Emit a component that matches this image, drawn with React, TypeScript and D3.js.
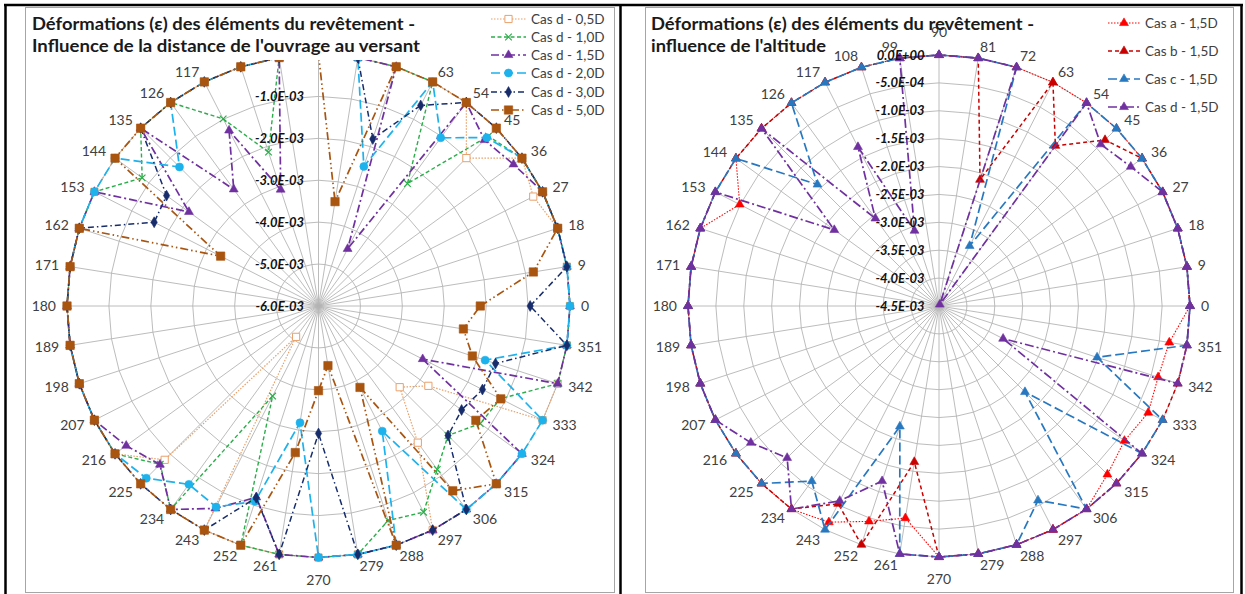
import React, { useEffect, useRef } from "react";
import * as d3 from "d3";

// categories (degrees around the lining)
const angles = [0, 9, 18, 27, 36, 45, 54, 63, 72, 81, 90, 99, 108, 117, 126, 135, 144, 153, 162, 171,
  180, 189, 198, 207, 216, 225, 234, 243, 252, 261, 270, 279, 288, 297, 306, 315, 324, 333, 342, 351];

// strains, in 1e-3 units (index = angle / 9)
const casD05 = [0, 0, 0, -0.25, 0, -1.01, 0, 0, 0, 0,
  0, 0, 0, 0, 0, 0, 0, 0, 0, 0,
  0, 0, 0, 0, 0, -0.81, -5.09, 0, 0, 0,
  0, 0, 0, 0, -1.97, -3.26, -2.76, 0, 0, 0];
const casD10 = [0, 0, 0, 0, 0, -0.27, -2.39, 0, 0, 0,
  0, 0, -2.14, -0.99, 0, 0, -0.8, 0, 0, 0,
  0, 0, 0, 0, 0, -0.66, 0, -3.59, 0, 0,
  0, 0, -0.62, -0.48, -1.18, -1.63, -1.23, -1.13, 0, 0];
const casD15 = [0, 0, 0, 0, -0.25, -0.4, 0, -4.47, 0, 0,
  0, 0, -3.08, -1.3, -2.56, 0, -2.18, 0, 0, 0,
  0, 0, 0, 0, -0.33, -0.65, 0, -0.58, -1.2, 0,
  0, 0, 0, 0, 0, 0, 0, -3.21, 0, 0];
const casD20 = [0, 0, 0, 0, 0, -0.32, -1.04, 0, -2.5, 0,
  0, 0, 0, 0, 0, -1.31, 0, 0, 0, 0,
  0, 0, 0, 0, 0, -0.19, -0.74, -0.62, -1.1, -3.18,
  0, 0, 0, -2.65, 0, 0, 0, 0, -1.82, 0];
const casD30 = [-0.95, 0, 0, 0, 0, 0, 0, -0.63, -1.81, 0,
  0, 0, 0, 0, 0, 0, -1.52, -1.6, 0, 0,
  0, 0, 0, 0, 0, 0, 0, 0, -1.19, 0,
  -2.96, 0, 0, 0, 0, -1.63, -1.78, -1.61, -1.56, 0];
const casD50 = [-2.14, -0.81, 0, 0, 0, 0, 0, 0, 0, -3.48,
  0, 0, 0, 0, 0, 0, 0, -3.38, 0, 0,
  0, 0, 0, 0, 0, 0, 0, 0, 0, -2.46,
  -3.98, -4.56, 0, -3.82, -0.55, 0, -1.36, -1.12, -2.14, -2.5];

const casA15 = [0, 0, 0, 0, 0, 0, 0, 0, 0, 0,
  0, 0, 0, 0, 0, 0, 0, -0.49, 0, 0,
  0, 0, 0, 0, 0, 0, 0, -0.15, -0.44, -0.65,
  0, 0, 0, 0, 0, -0.23, -0.39, -0.29, -0.37, -0.32];
const casB15 = [0, 0, 0, 0, 0, -0.29, -0.95, 0, -2.12, 0,
  0, 0, 0, 0, 0, 0, 0, 0, 0, 0,
  0, 0, 0, 0, 0, 0, 0, -0.52, 0, -1.67,
  0, 0, 0, 0, 0, 0, 0, 0, 0, 0];
const casC15 = [0, 0, 0, 0, 0, 0, 0, -3.29, 0, 0,
  0, 0, 0, 0, 0, -1.42, 0, 0, 0, 0,
  0, 0, 0, 0, 0, 0, -0.62, 0, -2.23, 0,
  0, 0, 0, -0.59, 0, -2.32, 0, 0, -1.52, 0];

const leftTicks = [-6, -5, -4, -3, -2, -1, 0];
const rightTicks = [-4.5, -4, -3.5, -3, -2.5, -2, -1.5, -1, -0.5, 0];

const leftTitle = ["Déformations (ε) des éléments du revêtement -", "Influence de la distance de l'ouvrage au versant"];
const rightTitle = ["Déformations (ε) des éléments du revêtement -", "influence de l'altitude"];

type Serie = { name: string; values: number[]; color: string; dash: string; width: number; marker: string };

const leftSeries: Serie[] = [
  { name: "Cas d - 0,5D", values: casD05, color: "#E9A06A", dash: "1.5,1.5", width: 1.2, marker: "squareOpen" },
  { name: "Cas d - 1,0D", values: casD10, color: "#2BAE4A", dash: "4,2.5", width: 1.4, marker: "x" },
  { name: "Cas d - 1,5D", values: casD15, color: "#7030A0", dash: "8,3,2,3", width: 1.7, marker: "triangle" },
  { name: "Cas d - 2,0D", values: casD20, color: "#1DB2EC", dash: "9,4", width: 1.7, marker: "circle" },
  { name: "Cas d - 3,0D", values: casD30, color: "#172C6B", dash: "6,3,1.5,3", width: 1.5, marker: "diamond" },
  { name: "Cas d - 5,0D", values: casD50, color: "#A9540F", dash: "8,3,1.5,3,1.5,3", width: 1.7, marker: "square" },
];

const rightSeries: Serie[] = [
  { name: "Cas a - 1,5D", values: casA15, color: "#FF0000", dash: "1.5,1.5", width: 1.1, marker: "triangle" },
  { name: "Cas b - 1,5D", values: casB15, color: "#C80000", dash: "4,3", width: 1.5, marker: "triangle" },
  { name: "Cas c - 1,5D", values: casC15, color: "#2878C0", dash: "9,4", width: 1.7, marker: "triangle" },
  { name: "Cas d - 1,5D", values: casD15, color: "#7030A0", dash: "9,3,2,3", width: 1.7, marker: "triangle" },
];

const FONT = "Lato, 'Open Sans', sans-serif";

const fmtE = (v: number) => {
  if (v === 0) return "0.0E+00";
  const [m, e] = (v * 1e-3).toExponential(1).split("e");
  const ev = parseInt(e, 10);
  return `${m}E${ev < 0 ? "-" : "+"}${String(Math.abs(ev)).padStart(2, "0")}`;
};

function addMarker(g: any, kind: string, x: number, y: number, color: string) {
  if (kind === "x") {
    const s = 3.3;
    g.append("path")
      .attr("d", `M${x - s},${y - s}L${x + s},${y + s}M${x - s},${y + s}L${x + s},${y - s}`)
      .attr("stroke", color)
      .attr("stroke-width", 1.2)
      .attr("fill", "none");
    return;
  }
  const types: Record<string, [any, number]> = {
    squareOpen: [d3.symbolSquare, 52],
    square: [d3.symbolSquare, 70],
    triangle: [d3.symbolTriangle, 34],
    circle: [d3.symbolCircle, 50],
    diamond: [d3.symbolDiamond, 34],
  };
  const [type, size] = types[kind];
  g.append("path")
    .attr("d", d3.symbol().type(type).size(size)())
    .attr("transform", `translate(${x},${y})`)
    .attr("fill", kind === "squareOpen" ? "#fff" : color)
    .attr("stroke", color)
    .attr("stroke-width", kind === "squareOpen" ? 1 : 0.6);
}

function drawRadar(root: any, opt: {
  cx: number; cy: number; R: number; ticks: number[]; series: Serie[];
  title: string[]; titleX: number; titleW: number[];
  legendX: number; legendY: number[]; lineW: number; clipId?: string; topY?: number;
}) {
  const { cx, cy, R, ticks, series } = opt;
  const topY = opt.topY ?? -Infinity; // texts above this line are covered in the source
  const rScale = d3.scaleLinear().domain([d3.min(ticks)!, 0]).range([0, R]).clamp(true);
  const rad = (a: number) => (a * Math.PI) / 180;
  const pt = (a: number, r: number): [number, number] => [cx + r * Math.cos(rad(a)), cy - r * Math.sin(rad(a))];

  const plot = root.append("g");
  if (opt.clipId) plot.attr("clip-path", `url(#${opt.clipId})`);

  // grid rings (polygons, like Excel) and spokes
  ticks.forEach((t) => {
    if (rScale(t) <= 0) return;
    plot.append("path")
      .attr("d", d3.line().curve(d3.curveLinearClosed)(angles.map((a) => pt(a, rScale(t)))))
      .attr("fill", "none")
      .attr("stroke", "#B4B4B4")
      .attr("stroke-width", 0.9);
  });
  angles.forEach((a) => {
    const [x, y] = pt(a, R);
    plot.append("line").attr("x1", cx).attr("y1", cy).attr("x2", x).attr("y2", y)
      .attr("stroke", "#B4B4B4").attr("stroke-width", 0.9);
  });

  // category labels
  angles.forEach((a) => {
    const c = Math.cos(rad(a));
    const s = Math.sin(rad(a));
    const [px, py] = pt(a, R);
    let x = px, y = py, anchor = "middle";
    if (Math.abs(c) < 1e-6) {
      y = py - Math.sign(s) * 22.5;
    } else {
      x = px + 11 * c;
      y = py - 11.5 * s;
      anchor = c > 0 ? "start" : "end";
    }
    if (y < topY) return;
    plot.append("text").attr("x", x).attr("y", y).attr("dy", "0.35em")
      .attr("text-anchor", anchor).attr("font-family", FONT).attr("font-size", 14)
      .attr("fill", "#404040").text(a);
  });

  // series
  series.forEach((se) => {
    const pts = se.values.map((v, i) => pt(angles[i], rScale(v)));
    plot.append("path")
      .attr("d", d3.line().curve(d3.curveLinearClosed)(pts))
      .attr("fill", "none")
      .attr("stroke", se.color)
      .attr("stroke-width", se.width)
      .attr("stroke-dasharray", se.dash);
    pts.forEach(([x, y]) => addMarker(plot, se.marker, x, y, se.color));
  });

  // value axis labels along the 90° spoke
  ticks.forEach((t) => {
    const y = cy - rScale(t);
    if (y < topY) return;
    plot.append("text")
      .attr("x", cx - 14.5).attr("y", y).attr("dy", "0.35em")
      .attr("text-anchor", "end").attr("font-family", FONT).attr("font-size", 13)
      .attr("font-weight", "bold").attr("font-style", "italic").attr("fill", "#111")
      .text(fmtE(t));
  });

  // title
  opt.title.forEach((line, i) => {
    root.append("text")
      .attr("x", opt.titleX).attr("y", 30 + i * 21.7)
      .attr("font-family", FONT).attr("font-size", 16.5).attr("font-weight", "bold")
      .attr("fill", "#1a1a1a")
      .attr("textLength", opt.titleW[i]).attr("lengthAdjust", "spacingAndGlyphs")
      .text(line);
  });

  // legend
  series.forEach((se, i) => {
    const y = opt.legendY[i];
    const x0 = opt.legendX;
    root.append("line").attr("x1", x0).attr("x2", x0 + opt.lineW).attr("y1", y).attr("y2", y)
      .attr("stroke", se.color).attr("stroke-width", se.width).attr("stroke-dasharray", se.dash);
    addMarker(root, se.marker, x0 + opt.lineW / 2, y, se.color);
    root.append("text").attr("x", x0 + opt.lineW + 5).attr("y", y).attr("dy", "0.35em")
      .attr("font-family", FONT).attr("font-size", 13.5).attr("fill", "#404040").text(se.name);
  });
}

const App: React.FC = () => {
  const svgRef = useRef<SVGSVGElement | null>(null);

  useEffect(() => {
    if (!svgRef.current) return;
    const svg = d3.select(svgRef.current);
    svg.selectAll("*").remove();

    svg.append("rect").attr("width", 1245).attr("height", 594).attr("fill", "#fff");

    // the left plot is cut off just under its title in the source
    svg.append("defs").append("clipPath").attr("id", "clipLeft")
      .append("rect").attr("x", 0).attr("y", 60).attr("width", 620).attr("height", 540);

    // chart areas
    svg.append("rect").attr("x", 25.5).attr("y", 7.5).attr("width", 589).attr("height", 585)
      .attr("fill", "none").attr("stroke", "#A6A6A6");
    svg.append("rect").attr("x", 645.5).attr("y", 7.5).attr("width", 588).attr("height", 585)
      .attr("fill", "none").attr("stroke", "#A6A6A6");

    drawRadar(svg.append("g"), {
      cx: 318.5, cy: 306, R: 251.5, ticks: leftTicks, series: leftSeries,
      title: leftTitle, titleX: 32, titleW: [383, 388],
      legendX: 491, legendY: [19, 37, 55, 73, 92, 110], lineW: 35, clipId: "clipLeft", topY: 62,
    });
    drawRadar(svg.append("g"), {
      cx: 939, cy: 306, R: 251, ticks: rightTicks, series: rightSeries,
      title: rightTitle, titleX: 651, titleW: [383, 175],
      legendX: 1108, legendY: [23, 51, 79, 107], lineW: 32,
    });

    // table borders
    svg.append("line").attr("x1", 4).attr("x2", 1243).attr("y1", 5).attr("y2", 5)
      .attr("stroke", "#000").attr("stroke-width", 2.5);
    [5.5, 620.5, 1241.5].forEach((x) => {
      svg.append("line").attr("x1", x).attr("x2", x).attr("y1", 4).attr("y2", 594)
        .attr("stroke", "#000").attr("stroke-width", 2.5);
    });
  }, []);

  return (
    <svg ref={svgRef} width={1245} height={594} style={{ position: "absolute", left: 0, top: 0 }} />
  );
};

export default App;
